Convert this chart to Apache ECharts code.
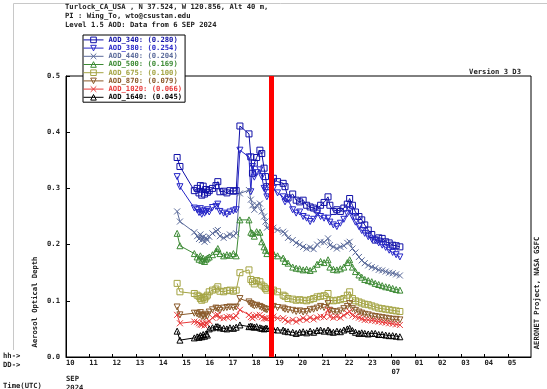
<!DOCTYPE html>
<html>
<head>
<meta charset="utf-8">
<script src="https://cdn.jsdelivr.net/npm/echarts@6/dist/echarts.min.js"></script>
<style>
  html, body { margin: 0; padding: 0; background: #fff; }
  #chart { width: 547px; height: 389px; }
</style>
</head>
<body>
<div id="chart"></div>
<script>
// UTC hours counted from 6 SEP 2024 00:00 (values > 24 are on 7 SEP)
const times = [
  14.78, 14.90, 15.52, 15.64, 15.72, 15.78, 15.84, 15.90, 15.96, 16.02,
  16.08, 16.16, 16.30, 16.45, 16.53, 16.62, 16.78, 16.92, 17.05, 17.20,
  17.32, 17.48, 17.87, 17.95, 18.02, 18.10, 18.20, 18.34, 18.42, 18.52,
  18.58, 18.64, 18.92, 19.10, 19.34, 19.42, 19.55, 19.75, 19.90, 20.05,
  20.20, 20.35, 20.50, 20.65, 20.80, 20.95, 21.10, 21.27, 21.35, 21.50,
  21.65, 21.80, 21.95, 22.10, 22.20, 22.32, 22.45, 22.60, 22.72, 22.85,
  23.00, 23.15, 23.30, 23.45, 23.60, 23.75, 23.90, 24.05, 24.20, 24.36
];

const aod340 = [
  .355, .339, .296, .300, .292, .305, .288, .304, .290, .298,
  .293, .296, .300, .305, .312, .294, .295, .292, .296, .295,
  .296, .411, .397, .356, .327, .345, .355, .368, .362, .336,
  .321, .303, .318, .312, .309, .303, .283, .290, .279, .276,
  .279, .270, .267, .265, .262, .270, .275, .285, .270, .259,
  .262, .259, .265, .272, .282, .270, .258, .250, .244, .235,
  .226, .218, .208, .212, .211, .205, .203, .199, .198, .196
];
const aod380 = [
  .321, .303, .265, .262, .257, .264, .254, .260, .256, .259,
  .262, .258, .266, .268, .272, .259, .256, .254, .258, .260,
  .262, .368, .356, .294, .339, .320, .328, .333, .321, .300,
  .297, .285, .300, .292, .285, .276, .280, .262, .256, .258,
  .250, .247, .241, .245, .256, .250, .247, .247, .240, .235,
  .232, .238, .245, .255, .262, .250, .240, .232, .225, .220,
  .214, .210, .208, .203, .199, .195, .190, .186, .182, .178
];
const aod440 = [
  .259, .241, .222, .215, .210, .218, .208, .214, .205, .212,
  .208, .214, .220, .224, .226, .215, .212, .215, .218, .216,
  .220, .291, .297, .280, .270, .262, .270, .273, .259, .250,
  .241, .230, .230, .226, .223, .220, .212, .208, .203, .200,
  .196, .193, .195, .192, .200, .205, .204, .211, .199, .196,
  .193, .196, .198, .203, .205, .193, .186, .178, .172, .167,
  .163, .160, .158, .155, .154, .152, .150, .149, .147, .145
];
const aod500 = [
  .220, .198, .184, .178, .174, .180, .172, .176, .170, .174,
  .176, .178, .182, .188, .193, .184, .180, .182, .181, .184,
  .180, .244, .244, .222, .220, .215, .223, .222, .205, .196,
  .190, .184, .184, .180, .176, .170, .167, .160, .158, .157,
  .155, .156, .154, .157, .165, .170, .168, .173, .160, .156,
  .155, .157, .160, .168, .173, .160, .152, .146, .142, .138,
  .136, .134, .131, .129, .127, .125, .124, .122, .120, .119
];
const aod675 = [
  .131, .116, .113, .110, .108, .104, .101, .106, .103, .107,
  .110, .116, .119, .121, .125, .117, .116, .118, .119, .117,
  .119, .150, .155, .138, .134, .130, .136, .134, .128, .125,
  .122, .119, .119, .116, .110, .108, .104, .103, .101, .102,
  .101, .100, .102, .104, .107, .108, .109, .113, .101, .100,
  .101, .102, .104, .110, .116, .104, .100, .098, .096, .094,
  .093, .091, .089, .087, .086, .085, .084, .083, .082, .081
];
const aod870 = [
  .089, .075, .078, .077, .075, .079, .072, .074, .071, .076,
  .073, .080, .084, .087, .086, .083, .087, .088, .089, .088,
  .089, .104, .098, .095, .093, .091, .092, .090, .088, .086,
  .085, .084, .090, .088, .087, .085, .084, .083, .081, .082,
  .080, .081, .084, .085, .087, .090, .088, .095, .083, .081,
  .080, .082, .086, .090, .095, .086, .083, .080, .078, .076,
  .075, .073, .072, .071, .070, .069, .068, .067, .067, .066
];
const aod1020 = [
  .075, .060, .063, .062, .060, .058, .057, .060, .056, .061,
  .058, .064, .070, .074, .075, .070, .069, .071, .072, .070,
  .073, .084, .075, .071, .069, .072, .074, .075, .071, .069,
  .069, .068, .072, .069, .069, .066, .063, .066, .063, .066,
  .069, .066, .070, .067, .070, .072, .071, .084, .072, .070,
  .072, .070, .074, .078, .081, .074, .072, .070, .068, .066,
  .066, .065, .064, .063, .062, .061, .060, .059, .058, .057
];
const aod1640 = [
  .046, .030, .034, .036, .035, .038, .036, .040, .037, .041,
  .039, .050, .052, .054, .054, .052, .051, .050, .052, .051,
  .053, .057, .054, .055, .054, .053, .054, .052, .051, .050,
  .051, .051, .049, .048, .048, .046, .045, .044, .042, .044,
  .045, .043, .046, .044, .047, .048, .046, .048, .045, .044,
  .046, .045, .048, .050, .051, .047, .044, .042, .043, .042,
  .041, .042, .042, .040, .040, .039, .038, .038, .037, .036
];

const names = ['AOD_340', 'AOD_380', 'AOD_440', 'AOD_500', 'AOD_675', 'AOD_870', 'AOD_1020', 'AOD_1640'];
const means = ['0.280', '0.254', '0.204', '0.169', '0.100', '0.079', '0.066', '0.045'];
const values = [aod340, aod380, aod440, aod500, aod675, aod870, aod1020, aod1640];
const markHour = 18.82;

const colors = ['#1010a8', '#2828c8', '#5a6a9a', '#3c8a34', '#a4a444', '#8a5a2a', '#e83a3a', '#000000'];
const xMark = 'path://M0,0L10,10M10,0L0,10';
const symbols = ['rect', 'triangle', xMark, 'triangle', 'rect', 'triangle', xMark, 'triangle'];
const rotations = [0, 180, 0, 0, 0, 180, 0, 0];

const FONT = 'DejaVu Sans Mono';

function pad2(n) {
    n = Math.round(n) % 24;
    return (n < 10 ? '0' : '') + n;
}

const chart = echarts.init(document.getElementById('chart'), null, { renderer: 'canvas' });

const series = names.map(function (name, k) {
    return {
        name: name,
        type: 'line',
        data: times.map(function (t, i) { return [t, values[k][i]]; }),
        symbol: symbols[k],
        symbolSize: 6,
        symbolRotate: rotations[k],
        showAllSymbol: true,
        lineStyle: { color: colors[k], width: 1 },
        itemStyle: { color: 'rgba(0,0,0,0)', borderColor: colors[k], borderWidth: 1 },
        emphasis: { disabled: true },
        z: 2
    };
});

// red marker line
series.push({
    type: 'line',
    data: [],
    z: 5,
    markLine: {
        silent: true,
        symbol: ['none', 'none'],
        label: { show: false },
        lineStyle: { color: '#ff0000', width: 5, type: 'solid' },
        data: [{ xAxis: markHour }]
    }
});

const small = { fontFamily: FONT, fontSize: 7.2, fontWeight: 'bold', fill: '#222' };

chart.setOption({
    animation: false,
    backgroundColor: '#fff',
    grid: {
        left: 66, right: 16, top: 76, bottom: 32,
        show: true, borderColor: '#000', borderWidth: 1
    },
    legend: {
        orient: 'vertical',
        left: 83, top: 35,
        padding: [1, 3, 1, 0],
        itemGap: 0.4,
        itemWidth: 20,
        itemHeight: 7,
        backgroundColor: '#fff',
        borderColor: '#000',
        borderWidth: 1,
        borderRadius: 0,
        selectedMode: false,
        lineStyle: { width: 1 },
        itemStyle: { borderWidth: 1 },
        textStyle: { fontFamily: FONT, fontSize: 7.2, fontWeight: 'bold', lineHeight: 7.8 },
        formatter: function (name) {
            return name + ': (' + means[names.indexOf(name)] + ')';
        },
        data: names.map(function (n, k) {
            return { name: n, textStyle: { color: colors[k] } };
        })
    },
    xAxis: {
        type: 'value',
        min: 10, max: 30, interval: 1,
        axisLine: { show: true, lineStyle: { color: '#000' } },
        axisTick: { show: true, inside: true, length: 3, lineStyle: { color: '#000' } },
        splitLine: { show: false },
        axisLabel: {
            showMaxLabel: false,
            align: 'left',
            margin: 2,
            color: '#222',
            fontFamily: FONT, fontSize: 7.2, fontWeight: 'bold', lineHeight: 9,
            formatter: function (v) {
                return v === 24 ? '00\n07' : pad2(v);
            }
        }
    },
    yAxis: {
        type: 'value',
        min: 0, max: 0.5, interval: 0.1,
        axisLine: { show: true, lineStyle: { color: '#000' } },
        axisTick: { show: true, inside: true, length: 4, lineStyle: { color: '#000' } },
        splitLine: { show: false },
        axisLabel: {
            margin: 6,
            color: '#222',
            fontFamily: FONT, fontSize: 7.2, fontWeight: 'bold',
            formatter: function (v) { return v.toFixed(1); }
        }
    },
    graphic: [
        { type: 'line', shape: { x1: 13.5, y1: 3.5, x2: 547, y2: 3.5 }, style: { stroke: '#c8c8c8', lineWidth: 1 }, silent: true },
        { type: 'line', shape: { x1: 13.5, y1: 3.5, x2: 13.5, y2: 350 }, style: { stroke: '#c8c8c8', lineWidth: 1 }, silent: true },
        { type: 'text', left: 65, top: 4, style: Object.assign({ text: 'Turlock_CA_USA , N 37.524, W 120.856, Alt 40 m,' }, small) },
        { type: 'text', left: 65, top: 13, style: Object.assign({ text: 'PI : Wing_To, wto@csustan.edu' }, small) },
        { type: 'text', left: 65, top: 22, style: Object.assign({ text: 'Level 1.5 AOD: Data from 6 SEP 2024' }, small) },
        { type: 'text', right: 26, top: 69, style: Object.assign({ text: 'Version 3 D3' }, small) },
        {
            type: 'text', x: 35, y: 302, rotation: Math.PI / 2,
            style: Object.assign({ text: 'Aerosol Optical Depth', align: 'center', verticalAlign: 'middle' }, small)
        },
        {
            type: 'text', x: 537, y: 293, rotation: Math.PI / 2,
            style: Object.assign({ text: 'AERONET Project, NASA GSFC', align: 'center', verticalAlign: 'middle' }, small)
        },
        { type: 'text', left: 3, top: 353, style: Object.assign({ text: 'hh->' }, small) },
        { type: 'text', left: 3, top: 362, style: Object.assign({ text: 'DD->' }, small) },
        { type: 'text', left: 66, top: 376, style: Object.assign({ text: 'SEP' }, small) },
        { type: 'text', left: 66, top: 385, style: Object.assign({ text: '2024' }, small) },
        { type: 'text', left: 3, top: 383, style: Object.assign({ text: 'Time(UTC)' }, small) }
    ],
    series: series
});
</script>
</body>
</html>
